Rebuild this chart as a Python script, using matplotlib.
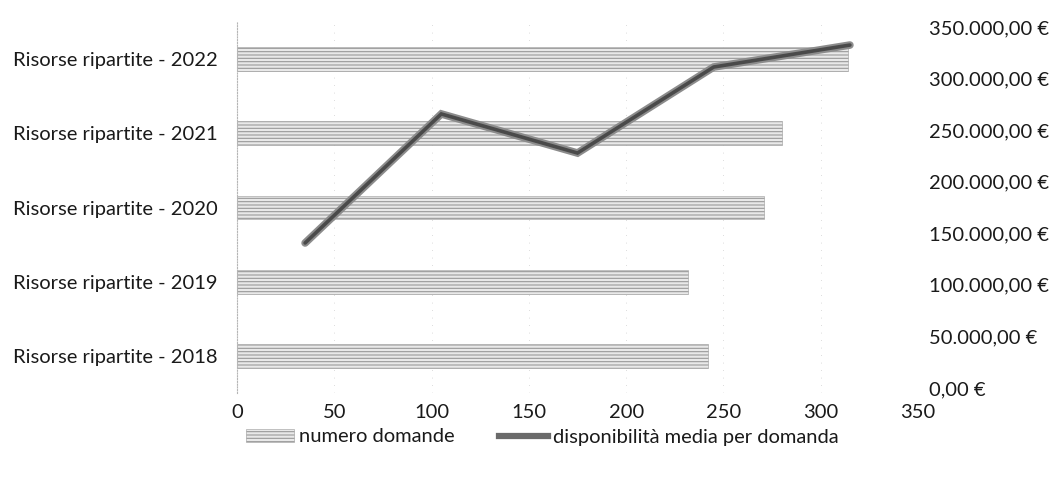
import numpy as np
import matplotlib
matplotlib.use("Agg")
import matplotlib.pyplot as plt
from matplotlib.lines import Line2D
from matplotlib.patches import Patch
from matplotlib.ticker import FuncFormatter

plt.rcParams['font.family'] = ['Lato', 'DejaVu Sans']
plt.rcParams['hatch.linewidth'] = 0.8

# data
categorie = ['Risorse ripartite - 2018', 'Risorse ripartite - 2019', 'Risorse ripartite - 2020',
             'Risorse ripartite - 2021', 'Risorse ripartite - 2022']
numero_domande = [242, 232, 271, 280, 314]
disponibilita_media = [140600, 265700, 227800, 311200, 332500]

x_ticks = [0, 50, 100, 150, 200, 250, 300, 350]
y2_ticks = [0, 50000, 100000, 150000, 200000, 250000, 300000, 350000]

W, H = 1057, 483
fs = 14.5
fig = plt.figure(figsize=(W / 100, H / 100), dpi=100)

# bars: main axes
ax = fig.add_axes([237 / W, 1 - 393 / H, (918 - 237) / W, (393 - 22) / H])
pos = np.arange(len(categorie))
ax.barh(pos, numero_domande, height=0.32, color='#e9e9e9', edgecolor='#9a9a9a',
        hatch='-----', linewidth=0.4, zorder=2)
ax.set_ylim(-0.5, len(categorie) - 0.5)
ax.set_xlim(0, 350)
ax.set_xticks(x_ticks)
ax.set_yticks(pos)
ax.set_yticklabels(categorie)
ax.tick_params(axis='both', length=0, labelsize=fs, colors='#1a1a1a')
ax.tick_params(axis='y', pad=14)
ax.tick_params(axis='x', pad=8)
for s in ['top', 'right', 'bottom']:
    ax.spines[s].set_visible(False)
ax.spines['left'].set_color('#b5b5b5')
ax.spines['left'].set_linestyle((0, (1, 1.5)))
ax.spines['left'].set_linewidth(0.8)
ax.xaxis.grid(True, color='#d0d0d0', linestyle=(0, (1, 8)), linewidth=0.6, zorder=0)
ax.set_axisbelow(True)

# line: secondary axes (categories on hidden x, euro values on right)
ax2 = fig.add_axes([237 / W, 1 - 388 / H, (918 - 237) / W, (388 - 27) / H])
ax2.patch.set_visible(False)
ax2.plot(pos, disponibilita_media, color='#8c8c8c', linewidth=5.5, solid_capstyle='round',
         solid_joinstyle='miter', zorder=3)
ax2.plot(pos, disponibilita_media, color='#4a4a4a', linewidth=2.6, solid_capstyle='round',
         solid_joinstyle='miter', zorder=4)
ax2.set_xlim(-0.5, len(categorie) - 0.5)
ax2.set_ylim(0, 350000)
ax2.set_yticks(y2_ticks)
ax2.yaxis.set_major_formatter(FuncFormatter(
    lambda v, p: '{:,.2f}'.format(v).replace(',', 'X').replace('.', ',').replace('X', '.') + ' €'))
ax2.yaxis.tick_right()
ax2.tick_params(axis='y', length=0, labelsize=fs, colors='#1a1a1a', pad=8)
ax2.set_xticks([])
for s in ax2.spines.values():
    s.set_visible(False)

handles = [Patch(facecolor='#e9e9e9', edgecolor='#9a9a9a', hatch='-----', linewidth=0.4),
           Line2D([0], [0], color='#6a6a6a', linewidth=4.5)]
fig.legend(handles, ['numero domande', 'disponibilità media per domanda'],
           loc='center', bbox_to_anchor=(0.513, 1 - 437 / H), ncol=2, frameon=False,
           fontsize=fs, handlelength=2.4, handleheight=0.6, handletextpad=0.25,
           columnspacing=2.2, labelcolor='#1a1a1a')

fig.savefig('out.png', dpi=100)
